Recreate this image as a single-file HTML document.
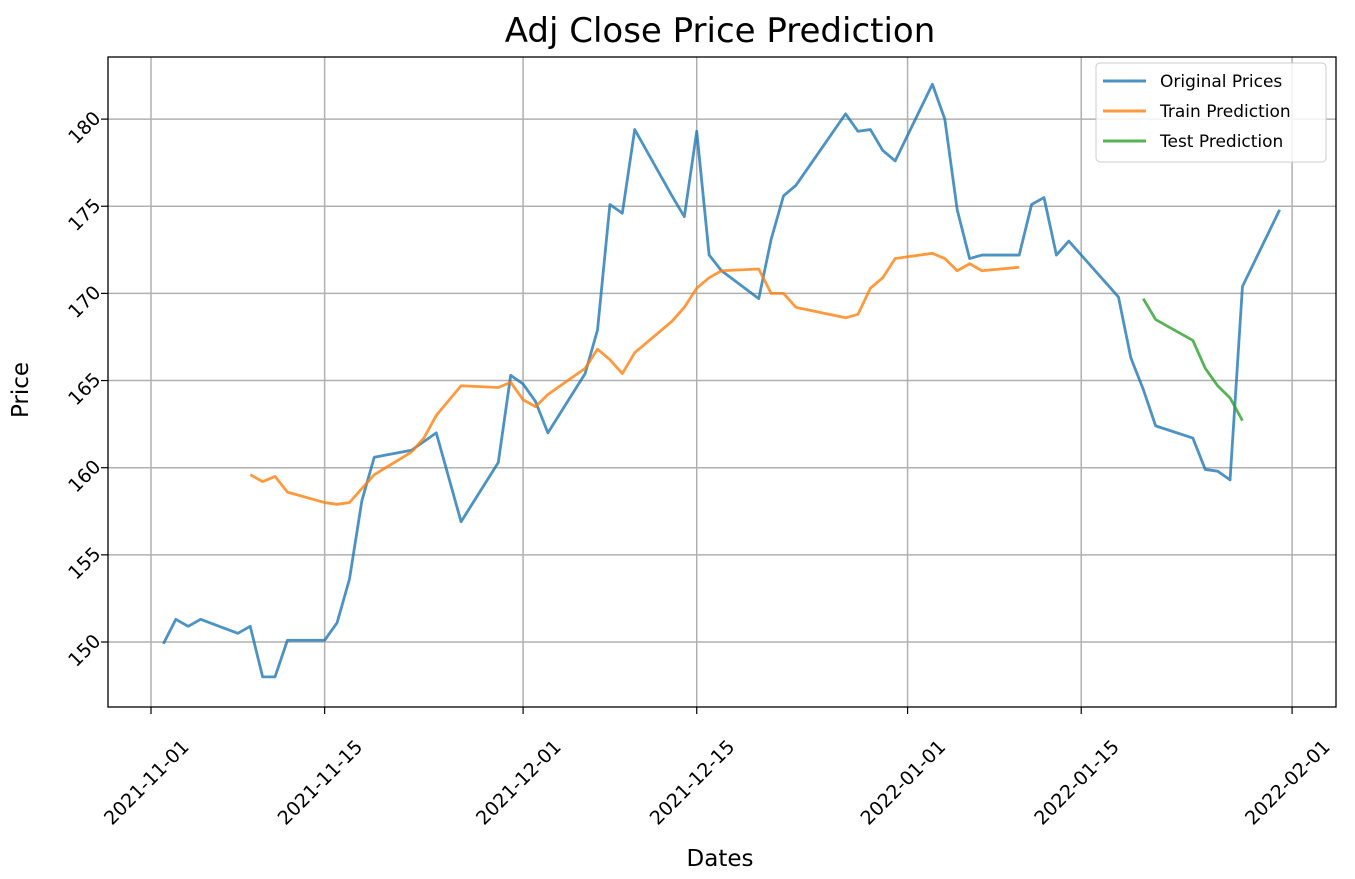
<!DOCTYPE html>
<html><head><meta charset="utf-8"><style>
body{margin:0;background:#fff;}
svg{display:block;font-family:"DejaVu Sans","Liberation Sans",sans-serif;}
</style></head><body>
<svg id="chart" width="1355" height="879" viewBox="0 0 1355 879">
<text x="720" y="42" text-anchor="middle" font-size="34" fill="#000">Adj Close Price Prediction</text>
<g id="grid"></g>
<g id="series"></g>
<rect x="108" y="57" width="1228" height="650" fill="none" stroke="#000" stroke-width="1.3"/>
<g id="xticks"></g>
<g id="yticks"></g>
<text x="720" y="866" text-anchor="middle" font-size="23">Dates</text>
<text transform="translate(28,390) rotate(-90)" text-anchor="middle" font-size="23">Price</text>
<g>
<rect x="1096" y="63" width="230" height="99" rx="4" fill="#fff" fill-opacity="0.85" stroke="#ccc"/>
<g><line x1="1103" y1="81" x2="1146" y2="81" stroke="#1f77b4" stroke-opacity="0.8" stroke-width="3"/><text x="1160" y="87" font-size="17">Original Prices</text></g>
<g><line x1="1103" y1="111" x2="1146" y2="111" stroke="#ff7f0e" stroke-opacity="0.8" stroke-width="3"/><text x="1160" y="117" font-size="17">Train Prediction</text></g>
<g><line x1="1103" y1="141" x2="1146" y2="141" stroke="#2ca02c" stroke-opacity="0.8" stroke-width="3"/><text x="1160" y="147" font-size="17">Test Prediction</text></g>
</g>
</svg>
<script>
// day offsets from 2021-11-01
const origDays=[1,2,3,4,7,8,9,10,11,14,15,16,17,18,21,23,25,28,29,30,31,32,35,36,37,38,39,42,43,44,45,46,49,50,51,52,56,57,58,59,60,63,64,65,66,67,70,71,72,73,74,78,79,80,81,84,85,86,87,88,91];
const origVals=[149.9,151.3,150.9,151.3,150.5,150.9,148.0,148.0,150.1,150.1,151.1,153.6,158.1,160.6,161.0,162.0,156.9,160.3,165.3,164.8,163.8,162.0,165.4,167.9,175.1,174.6,179.4,175.6,174.4,179.3,172.2,171.3,169.7,173.1,175.6,176.2,180.3,179.3,179.4,178.2,177.6,182.0,180.0,174.8,172.0,172.2,172.2,175.1,175.5,172.2,173.0,169.8,166.3,164.5,162.4,161.7,159.9,159.8,159.3,170.4,174.8];
const trainDays=[8,9,10,11,14,15,16,17,18,21,22,23,25,28,29,30,31,32,35,36,37,38,39,42,43,44,45,46,49,50,51,52,56,57,58,59,60,63,64,65,66,67,70];
const trainVals=[159.6,159.2,159.5,158.6,158.0,157.9,158.0,158.8,159.6,160.9,161.7,163.0,164.7,164.6,164.9,163.9,163.5,164.2,165.7,166.8,166.2,165.4,166.6,168.4,169.2,170.3,170.9,171.3,171.4,170.0,170.0,169.2,168.6,168.8,170.3,170.9,172.0,172.3,172.0,171.3,171.7,171.3,171.5];
const testDays=[80,81,84,85,86,87,88];
const testVals=[169.7,168.5,167.3,165.7,164.7,164.0,162.7];
const yTicks=[150,155,160,165,170,175,180];
const xTickDays=[0,14,30,44,61,75,92];
const xTickLabels=["2021-11-01","2021-11-15","2021-12-01","2021-12-15","2022-01-01","2022-01-15","2022-02-01"];

const NS="http://www.w3.org/2000/svg";
const X=d=>151+(d)*12.403;
const Y=v=>642-(v-150)*17.43;
function mk(t,a,p){const e=document.createElementNS(NS,t);for(const k in a)e.setAttribute(k,a[k]);p.appendChild(e);return e;}
const grid=document.getElementById('grid'),xt=document.getElementById('xticks'),yt=document.getElementById('yticks'),ser=document.getElementById('series');
xTickDays.forEach((d,i)=>{
  const x=X(d);
  const g=mk('line',{x1:x,x2:x,y1:57,y2:707,stroke:'#b0b0b0','stroke-width':1.5},grid);
  
  
  mk('line',{x1:x,x2:x,y1:707,y2:714,stroke:'#000','stroke-width':1.2},xt);
  const t=mk('text',{transform:`translate(${x},${787}) rotate(-45)`,'text-anchor':'middle','font-size':19},xt);
  t.textContent=xTickLabels[i];
  
  
});
yTicks.forEach(v=>{
  const y=Y(v);
  const g=mk('line',{x1:108,x2:1336,y1:y,y2:y,stroke:'#b0b0b0','stroke-width':1.5},grid);
  
  
  mk('line',{x1:101,x2:108,y1:y,y2:y,stroke:'#000','stroke-width':1.2},yt);
  const t=mk('text',{transform:`translate(${89},${y+13}) rotate(-45)`,'text-anchor':'middle','font-size':19},yt);
  t.textContent=v;
  
  
});
function line(days,vals,color,name){
  const p=mk('polyline',{points:days.map((d,i)=>X(d)+','+Y(vals[i])).join(' '),fill:'none',stroke:color,'stroke-opacity':0.8,'stroke-width':2.8,'stroke-linejoin':'round'},ser);
  
  
}
line(origDays,origVals,'#1f77b4','original-prices-line');
line(trainDays,trainVals,'#ff7f0e','train-prediction-line');
line(testDays,testVals,'#2ca02c','test-prediction-line');
</script>
</body></html>
